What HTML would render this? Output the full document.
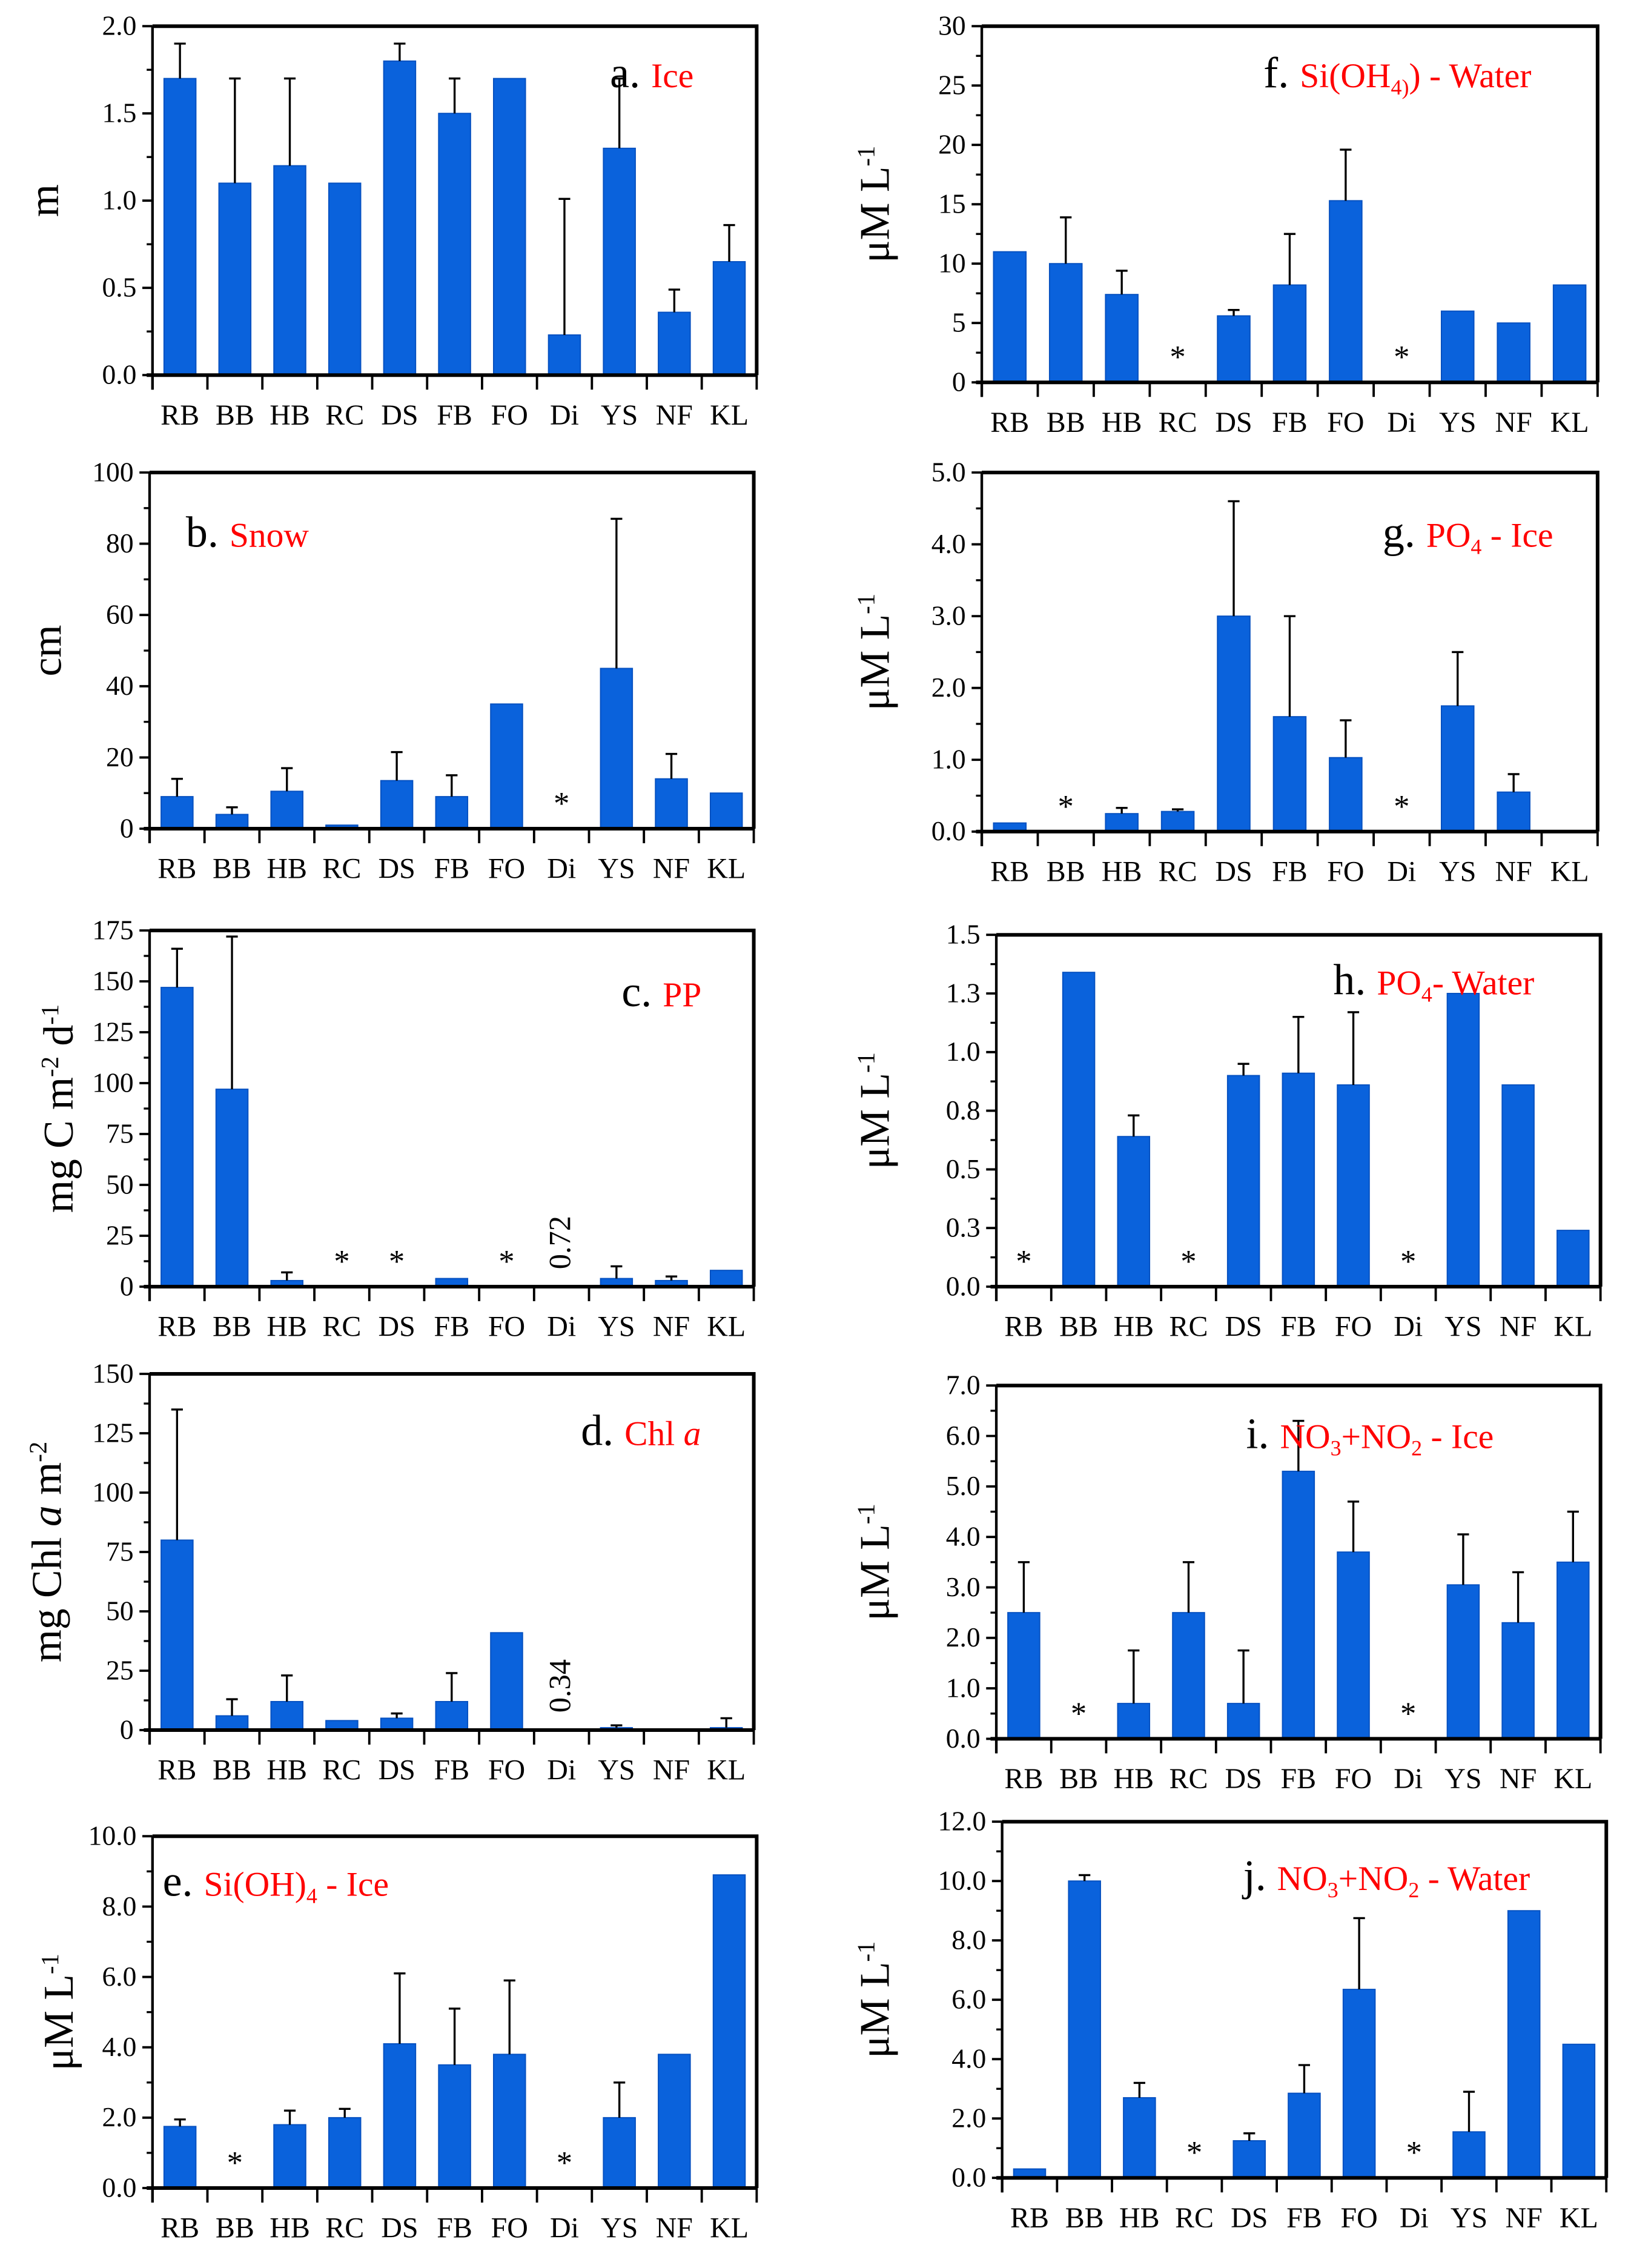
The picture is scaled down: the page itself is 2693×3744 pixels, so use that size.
<!DOCTYPE html>
<html><head><meta charset="utf-8"><style>
html,body{margin:0;padding:0;background:#fff}
svg{display:block}
text{font-family:"Liberation Serif",serif}
</style></head><body>
<svg id="fig" width="2693" height="3744" viewBox="0 0 1123 1560" preserveAspectRatio="none" xmlns="http://www.w3.org/2000/svg"></svg>
<script>
const categories=["RB","BB","HB","RC","DS","FB","FO","Di","YS","NF","KL"];
// values (null = not sampled "*"), error tops (mean+sd), null = no error bar
const iceVals=[1.7,1.1,1.2,1.1,1.8,1.5,1.7,0.23,1.3,0.36,0.65];
const iceErr=[1.9,1.7,1.7,null,1.9,1.7,null,1.01,1.7,0.49,0.86];
const snowVals=[9,4,10.5,1,13.5,9,35,null,45,14,10];
const snowErr=[14,6,17,null,21.5,15,null,null,87,21,null];
const ppVals=[147,97,3,null,null,4,null,0,4,3,8];
const ppErr=[166,172,7,null,null,null,null,null,10,5,null];
const chlVals=[80,6,12,4,5,12,41,0,1,0.5,1];
const chlErr=[135,13,23,null,7,24,null,null,2,null,5];
const siIceVals=[1.75,null,1.8,2.0,4.1,3.5,3.8,null,2.0,3.8,8.9];
const siIceErr=[1.95,null,2.2,2.25,6.1,5.1,5.9,null,3.0,null,null];
const siWatVals=[11,10,7.4,null,5.6,8.2,15.3,null,6,5,8.2];
const siWatErr=[null,13.9,9.4,null,6.1,12.5,19.6,null,null,null,null];
const po4IceVals=[0.12,null,0.25,0.28,3.0,1.6,1.03,null,1.75,0.55,0];
const po4IceErr=[null,null,0.33,0.31,4.6,3.0,1.55,null,2.5,0.8,null];
const po4WatVals=[null,1.34,0.64,null,0.9,0.91,0.86,null,1.25,0.86,0.24];
const po4WatErr=[null,null,0.73,null,0.95,1.15,1.17,null,null,null,null];
const no3IceVals=[2.5,null,0.7,2.5,0.7,5.3,3.7,null,3.05,2.3,3.5];
const no3IceErr=[3.5,null,1.75,3.5,1.75,6.3,4.7,null,4.05,3.3,4.5];
const no3WatVals=[0.3,10,2.7,null,1.25,2.85,6.35,null,1.55,9.0,4.5];
const no3WatErr=[null,10.2,3.2,null,1.5,3.8,8.75,null,2.9,null,null];
const iceTicks=["0.0","0.5","1.0","1.5","2.0"];
const snowTicks=["0","20","40","60","80","100"];
const ppTicks=["0","25","50","75","100","125","150","175"];
const chlTicks=["0","25","50","75","100","125","150"];
const siIceTicks=["0.0","2.0","4.0","6.0","8.0","10.0"];
const siWatTicks=["0","5","10","15","20","25","30"];
const po4IceTicks=["0.0","1.0","2.0","3.0","4.0","5.0"];
const po4WatTicks=["0.0","0.3","0.5","0.8","1.0","1.3","1.5"];
const no3IceTicks=["0.0","1.0","2.0","3.0","4.0","5.0","6.0","7.0"];
const no3WatTicks=["0.0","2.0","4.0","6.0","8.0","10.0","12.0"];
const valueNotes={c:"0.72",d:"0.34"};

const NS="http://www.w3.org/2000/svg";
const svg=document.getElementById('fig');
function mk(tag,attrs,parent){const e=document.createElementNS(NS,tag);for(const k in attrs)e.setAttribute(k,attrs[k]);(parent||svg).appendChild(e);return e;}

const panels=[
 {id:"a",vals:iceVals,err:iceErr,ticks:iceTicks,max:2.0,x0:105,x1:521,y0:18,y1:258,yt:'m',ytx:40,lx:420,ly:60,lab:'Ice'},
 {id:"b",vals:snowVals,err:snowErr,ticks:snowTicks,max:100,x0:103,x1:519,y0:325,y1:570,yt:'cm',ytx:42,lx:128,ly:376,lab:'Snow'},
 {id:"c",vals:ppVals,err:ppErr,ticks:ppTicks,max:175,x0:103,x1:519,y0:640,y1:885,yt:'c',ytx:50,lx:428,ly:692,lab:'PP'},
 {id:"d",vals:chlVals,err:chlErr,ticks:chlTicks,max:150,x0:103,x1:519,y0:945,y1:1190,yt:'d',ytx:42,lx:400,ly:994,lab:'Chl'},
 {id:"e",vals:siIceVals,err:siIceErr,ticks:siIceTicks,max:10,x0:105,x1:521,y0:1263,y1:1505,yt:'u',ytx:50,lx:112,ly:1304,lab:'SiIce'},
 {id:"f",vals:siWatVals,err:siWatErr,ticks:siWatTicks,max:30,x0:676,x1:1100,y0:18,y1:263,yt:'u',ytx:612,lx:870,ly:60,lab:'SiWat'},
 {id:"g",vals:po4IceVals,err:po4IceErr,ticks:po4IceTicks,max:5,x0:676,x1:1100,y0:325,y1:572,yt:'u',ytx:612,lx:952,ly:376,lab:'PO4Ice'},
 {id:"h",vals:po4WatVals,err:po4WatErr,ticks:po4WatTicks,max:1.5,x0:686,x1:1102,y0:643,y1:885,yt:'u',ytx:612,lx:918,ly:684,lab:'PO4Wat'},
 {id:"i",vals:no3IceVals,err:no3IceErr,ticks:no3IceTicks,max:7,x0:686,x1:1102,y0:953,y1:1196,yt:'u',ytx:612,lx:858,ly:996,lab:'NO3Ice'},
 {id:"j",vals:no3WatVals,err:no3WatErr,ticks:no3WatTicks,max:12,x0:690,x1:1106,y0:1253,y1:1498,yt:'u',ytx:612,lx:856,ly:1300,lab:'NO3Wat'}
];

function labelHTML(g,p){
 const t=mk('text',{x:p.lx,y:p.ly,'font-size':30,fill:'#000'},g);
 
 
 const s1=mk('tspan',{},t);s1.textContent=p.id+'. ';
 const red=(txt,extra)=>{const s=mk('tspan',Object.assign({fill:'#ff0000','font-size':24},extra||{}),t);s.textContent=txt;return s;};
 const sub=(txt)=>{const s=mk('tspan',{fill:'#ff0000','font-size':15,dy:5},t);s.textContent=txt;return s;};
 const up=(txt)=>{const s=mk('tspan',{fill:'#ff0000','font-size':24,dy:-5},t);s.textContent=txt;return s;};
 switch(p.lab){
  case 'Ice':red('Ice');break;
  case 'Snow':red('Snow');break;
  case 'PP':red('PP');break;
  case 'Chl':red('Chl ');red('a',{'font-style':'italic'});break;
  case 'SiIce':red('Si(OH)');sub('4');up(' - Ice');break;
  case 'SiWat':red('Si(OH');sub('4)');up(') - Water');break;
  case 'PO4Ice':red('PO');sub('4');up(' - Ice');break;
  case 'PO4Wat':red('PO');sub('4');up('- Water');break;
  case 'NO3Ice':red('NO');sub('3');up('+NO');sub('2');up(' - Ice');break;
  case 'NO3Wat':red('NO');sub('3');up('+NO');sub('2');up(' - Water');break;
 }
}

function ytitle(g,p){
 const cy=(p.y0+p.y1)/2;
 const t=mk('text',{x:p.ytx,y:cy,'font-size':29,'text-anchor':'middle',transform:`rotate(-90 ${p.ytx} ${cy})`,fill:'#000'},g);
 
 
 const sup=(txt)=>{const s=mk('tspan',{'font-size':17,dy:-10},t);s.textContent=txt;};
 const norm=(txt,dy)=>{const s=mk('tspan',dy?{dy:dy}:{},t);s.textContent=txt;};
 if(p.yt==='m')norm('m');
 else if(p.yt==='cm')norm('cm');
 else if(p.yt==='c'){norm('mg C m');sup('-2');norm(' d',10);sup('-1');}
 else if(p.yt==='d'){norm('mg Chl ');const s=mk('tspan',{'font-style':'italic'},t);s.textContent='a';norm(' m');sup('-2');}
 else {norm('μM L');sup('-1');}
}

panels.forEach(p=>{
 const g=mk('g',{});
 
 
 const n=categories.length, band=(p.x1-p.x0)/n;
 const xc=i=>p.x0+band*(i+0.5);
 const ys=v=>p.y1-(v/p.max)*(p.y1-p.y0);
 p.vals.forEach((v,i)=>{
  if(v===null){
   const s=mk('text',{x:xc(i),y:p.y1-10,'font-size':22,'text-anchor':'middle',fill:'#000'},g);
   
   
   s.textContent='*';return;
  }
  const bw=band*0.58;
  const r=mk('rect',{x:xc(i)-bw/2,y:ys(v),width:bw,height:Math.max(0,p.y1-ys(v)),fill:'#0a62dc',stroke:'#0550c0','stroke-width':0.8},g);
  
  
  const e=p.err[i];
  if(e!==null&&e!==undefined){
   const l=mk('path',{d:`M${xc(i)},${ys(v)}V${ys(e)}M${xc(i)-4},${ys(e)}H${xc(i)+4}`,stroke:'#000','stroke-width':1.4,fill:'none'},g);
   
   
  }
 });
 if(valueNotes[p.id]){
  const i=categories.indexOf('Di');const x=xc(i)+6,y=p.y1-12;
  const t=mk('text',{x:x,y:y,'font-size':21,transform:`rotate(-90 ${x} ${y})`,fill:'#000'},g);
  
  
  t.textContent=valueNotes[p.id];
 }
 const fr=mk('path',{d:`M${p.x0},${p.y0}H${p.x1}V${p.y1}`,stroke:'#000','stroke-width':2.5,fill:'none'},g);
 
 
 const xa=mk('path',{d:`M${p.x0-4},${p.y1}H${p.x1}`,stroke:'#000','stroke-width':2.5,fill:'none'},g);
 
 
 const ya=mk('path',{d:`M${p.x0},${p.y0}V${p.y1+10}`,stroke:'#000','stroke-width':1.8,fill:'none'},g);
 
 
 for(let i=0;i<=n;i++){
  const x=p.x0+band*i;
  mk('path',{d:`M${x},${p.y1}V${p.y1+10}`,stroke:'#000','stroke-width':1.6},g);
 }
 categories.forEach((c,i)=>{
  const t=mk('text',{x:xc(i),y:p.y1+34,'font-size':20,'text-anchor':'middle',fill:'#000'},g);
  
  
  t.textContent=c;
 });
 const nt=p.ticks.length-1;
 for(let k=0;k<=nt;k++){
  const y=p.y1-(p.y1-p.y0)*k/nt;
  mk('path',{d:`M${p.x0-7},${y}H${p.x0}`,stroke:'#000','stroke-width':1.6},g);
  if(k<nt){const ym=y-(p.y1-p.y0)/nt/2;mk('path',{d:`M${p.x0-4},${ym}H${p.x0}`,stroke:'#000','stroke-width':1.4},g);}
  const t=mk('text',{x:p.x0-11,y:y+6,'font-size':19,'text-anchor':'end',fill:'#000'},g);
  
  
  t.textContent=p.ticks[k];
 }
 labelHTML(g,p);
 ytitle(g,p);
});
</script>
</body></html>
